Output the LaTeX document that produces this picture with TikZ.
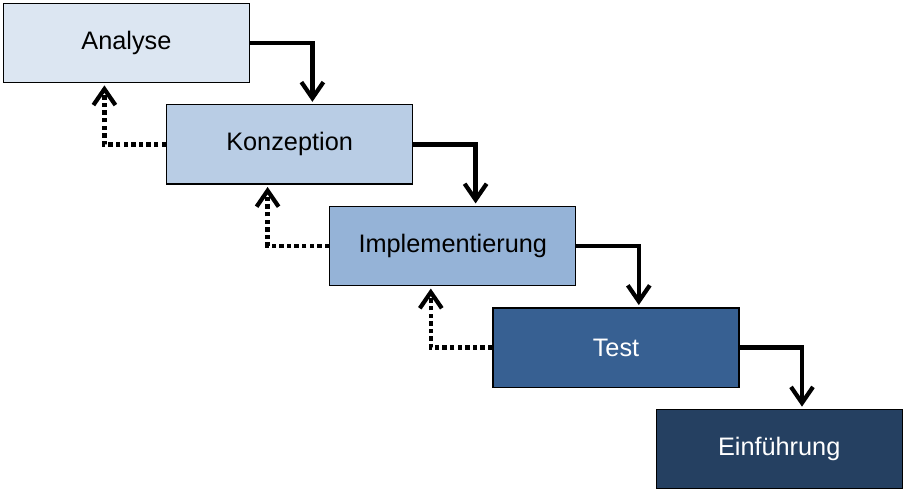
\documentclass[tikz,border=0pt]{standalone}
\usepackage{fontspec}
\setmainfont{Liberation Sans}
\usetikzlibrary{arrows.meta}

\definecolor{phase1}{HTML}{DCE6F2}
\definecolor{phase2}{HTML}{B9CDE5}
\definecolor{phase3}{HTML}{95B3D7}
\definecolor{phase4}{HTML}{376092}
\definecolor{phase5}{HTML}{254061}

\tikzstyle{phase}= [rectangle,draw,black,line width=0.8pt,minimum width=6.15cm,minimum height=1.98cm,font=\fontsize{18}{20}\selectfont]
\tikzstyle{vor}= [draw,black,line width=3pt,-{Straight Barb[length=0.4cm,width=0.55cm]}]
\tikzstyle{zurueck}= [draw,black,line width=3pt,dash pattern=on 0.11cm off 0.08cm,-{Straight Barb[length=0.4cm,width=0.55cm]}]

\begin{document}
\begin{tikzpicture}

		\useasboundingbox (0,0) rectangle (22.625,-12.35);

		\node (a) at (3.16,-1.07) [phase,fill=phase1] {Analyse};
		\node (b) at (7.24,-3.61) [phase,fill=phase2] {Konzeption};
		\node (c) at (11.32,-6.15) [phase,fill=phase3] {Implementierung};
		\node (d) at (15.40,-8.69) [phase,fill=phase4,text=white] {Test};
		\node (e) at (19.48,-11.23) [phase,fill=phase5,text=white] {Einführung};

		\path[vor] (a.east) -| ([xshift=0.57cm,yshift=0.06cm]b.north);
		\path[vor] (b.east) -| ([xshift=0.57cm,yshift=0.06cm]c.north);
		\path[vor] (c.east) -| ([xshift=0.57cm,yshift=0.06cm]d.north);
		\path[vor] (d.east) -| ([xshift=0.57cm,yshift=0.06cm]e.north);

		\path[zurueck] (b.west) -| ([xshift=-0.55cm,yshift=-0.06cm]a.south);
		\path[zurueck] (c.west) -| ([xshift=-0.55cm,yshift=-0.06cm]b.south);
		\path[zurueck] (d.west) -| ([xshift=-0.55cm,yshift=-0.06cm]c.south);

\end{tikzpicture}
\end{document}
